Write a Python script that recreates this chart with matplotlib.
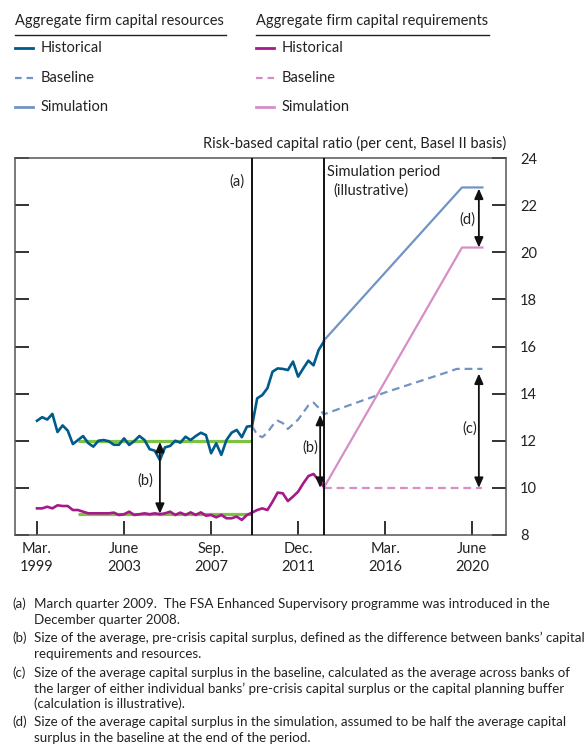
import matplotlib
matplotlib.use("Agg")
import matplotlib.pyplot as plt
from matplotlib.lines import Line2D

# ---------------- data ----------------
tick_pos = [0, 17, 34, 51, 68, 85]
tick_labels = ["Mar.\n1999", "June\n2003", "Sep.\n2007", "Dec.\n2011", "Mar.\n2016", "June\n2020"]
y_ticks = [8, 10, 12, 14, 16, 18, 20, 22, 24]

hist_q = list(range(0, 57))
res_hist = [12.85, 13.0, 12.9, 13.14, 12.37, 12.65, 12.43, 11.86, 12.03, 12.2,
            11.9, 11.75, 12.0, 12.03, 11.98, 11.83, 11.83, 12.1, 11.82, 11.99,
            12.2, 12.03, 11.64, 11.58, 11.18, 11.72, 11.78, 12.0, 11.92, 12.17,
            12.03, 12.2, 12.34, 12.24, 11.47, 11.89, 11.4, 12.03, 12.34, 12.46,
            12.15, 12.6, 12.63, 13.8, 13.94, 14.23, 14.93, 15.07, 15.05, 15.0,
            15.36, 14.72, 15.07, 15.4, 15.2, 15.85, 16.2]
req_hist = [9.13, 9.13, 9.2, 9.13, 9.26, 9.23, 9.23, 9.06, 9.06, 8.99,
            8.92, 8.92, 8.92, 8.92, 8.92, 8.95, 8.85, 8.88, 8.99, 8.85,
            8.88, 8.92, 8.88, 8.92, 8.88, 8.92, 8.99, 8.85, 8.95, 8.85,
            8.96, 8.85, 8.96, 8.82, 8.85, 8.75, 8.85, 8.71, 8.71, 8.78,
            8.64, 8.85, 8.95, 9.06, 9.13, 9.06, 9.41, 9.8, 9.77, 9.44,
            9.63, 9.84, 10.19, 10.5, 10.59, 10.33, 10.05]

res_base_q = [42, 43, 44, 45, 46, 47, 48, 49, 50, 51, 52, 53, 54, 55, 56, 68, 80, 82, 87]
res_base = [12.63, 12.25, 12.15, 12.35, 12.65, 12.85, 12.75, 12.5, 12.7, 12.9,
            13.2, 13.5, 13.62, 13.4, 13.12, 14.05, 14.9, 15.05, 15.05]
req_base_q = [56, 87]
req_base = [10.0, 10.0]

res_sim_q = [56, 83, 87]
res_sim = [16.25, 22.75, 22.75]
req_sim_q = [56, 83, 87]
req_sim = [10.0, 20.2, 20.2]

avg_q = [8, 42]
res_avg = [12.0, 12.0]
req_avg = [8.88, 8.88]

crisis_q = 42
sim_start_q = 56

arrow_b1 = (24, 11.95, 8.9)
arrow_b2 = (55.3, 13.1, 10.0)
arrow_c = (86.3, 14.85, 10.0)
arrow_d = (86.3, 22.7, 20.2)

# ---------------- style ----------------
C_RES = "#005a8c"
C_RES_L = "#7194c3"
C_REQ = "#a5198b"
C_REQ_L = "#d68fc6"
C_GREEN = "#7dc242"
C_SPINE = "#555555"
C_TXT = "#222222"

plt.rcParams['font.family'] = ['Lato', 'DejaVu Sans']
plt.rcParams['text.color'] = C_TXT

W, H = 586, 747
fig = plt.figure(figsize=(W / 100, H / 100), dpi=100)


def fx(px):
    return px / W


def fy(py):
    return 1 - py / H


ax = fig.add_axes([fx(15), fy(535), fx(506) - fx(15), fy(158) - fy(535)])
ax.set_xlim(-4.3, 91.6)
ax.set_ylim(8, 24)

# lines
ax.plot(avg_q, res_avg, color=C_GREEN, lw=2.3, solid_capstyle='butt', zorder=2)
ax.plot(avg_q, req_avg, color=C_GREEN, lw=2.3, solid_capstyle='butt', zorder=2)
ax.plot(hist_q, res_hist, color=C_RES, lw=1.9, zorder=3)
ax.plot(hist_q, req_hist, color=C_REQ, lw=1.9, zorder=3)
ax.plot(res_base_q, res_base, color=C_RES_L, lw=1.6, dashes=(3.5, 2.2), zorder=3)
ax.plot(req_base_q, req_base, color=C_REQ_L, lw=1.6, dashes=(3.5, 2.2), zorder=3)
ax.plot(res_sim_q, res_sim, color=C_RES_L, lw=1.6, zorder=3)
ax.plot(req_sim_q, req_sim, color=C_REQ_L, lw=1.6, zorder=3)

ax.axvline(crisis_q, color="#111111", lw=1.4, zorder=4)
ax.axvline(sim_start_q, color="#111111", lw=1.4, zorder=4)

# arrows
for (xq, y0, y1) in [arrow_b1, arrow_b2, arrow_c, arrow_d]:
    ax.annotate("", xy=(xq, y1), xytext=(xq, y0),
                arrowprops=dict(arrowstyle="<|-|>,head_length=0.5,head_width=0.22",
                                color="#111111", lw=1.3,
                                mutation_scale=12, shrinkA=0, shrinkB=0), zorder=5)

fs = 10.5
ax.text(24 - 1.2, 10.3, "(b)", ha='right', va='center', fontsize=fs)
ax.text(53.3, 11.7, "(b)", ha='center', va='center', fontsize=fs)
ax.text(84.6, 12.5, "(c)", ha='center', va='center', fontsize=fs)
ax.text(84.0, 21.4, "(d)", ha='center', va='center', fontsize=fs)
ax.text(39.0, 23.0, "(a)", ha='center', va='center', fontsize=fs)
ax.text(56.7, 23.42, "Simulation period", ha='left', va='center', fontsize=fs)
ax.text(57.9, 22.62, "(illustrative)", ha='left', va='center', fontsize=fs)

# axes styling
for s in ax.spines.values():
    s.set_color(C_SPINE)
    s.set_linewidth(1.1)
ax.set_yticks(y_ticks)
ax.set_yticklabels([str(v) for v in y_ticks])
ax.tick_params(axis='y', left=True, right=True, labelleft=False, labelright=True,
               direction='in', length=10, width=1.3, color="#222222",
               labelsize=fs, pad=10, labelcolor=C_TXT)
ax.set_xticks(tick_pos)
ax.set_xticklabels(tick_labels, linespacing=1.35)
ax.tick_params(axis='x', bottom=True, top=False, direction='in', length=10,
               width=1.3, color="#222222", labelsize=fs, pad=5, labelcolor=C_TXT)

fig.text(fx(506), fy(143), "Risk-based capital ratio (per cent, Basel II basis)",
         ha='right', va='center', fontsize=fs)

# legend
lg = [
    (15, "Aggregate firm capital resources", 226,
     [(C_RES, '-', "Historical"), (C_RES_L, '--', "Baseline"), (C_RES_L, '-', "Simulation")]),
    (256, "Aggregate firm capital requirements", 489,
     [(C_REQ, '-', "Historical"), (C_REQ_L, '--', "Baseline"), (C_REQ_L, '-', "Simulation")]),
]
item_y = [48, 78, 107]
for x0, head, x1, items in lg:
    fig.text(fx(x0), fy(21), head, ha='left', va='center', fontsize=fs)
    fig.add_artist(Line2D([fx(x0), fx(x1)], [fy(35), fy(35)], color="#222222", lw=1.0))
    for (c, ls, lab), yy in zip(items, item_y):
        kw = dict(color=c, lw=2.0 if ls == '-' else 1.6)
        if ls == '--':
            kw['dashes'] = (3.0, 2.2)
        fig.add_artist(Line2D([fx(x0), fx(x0 + 18)], [fy(yy), fy(yy)], **kw))
        fig.text(fx(x0 + 26), fy(yy), lab, ha='left', va='center', fontsize=fs)

# footnotes
fn = [
    ("(a)", ["March quarter 2009.  The FSA Enhanced Supervisory programme was introduced in the",
             "December quarter 2008."], 604),
    ("(b)", ["Size of the average, pre-crisis capital surplus, defined as the difference between banks\u2019 capital",
             "requirements and resources."], 638),
    ("(c)", ["Size of the average capital surplus in the baseline, calculated as the average across banks of",
             "the larger of either individual banks\u2019 pre-crisis capital surplus or the capital planning buffer",
             "(calculation is illustrative)."], 673),
    ("(d)", ["Size of the average capital surplus in the simulation, assumed to be half the average capital",
             "surplus in the baseline at the end of the period."], 722),
]
ffs = 9.6
for lab, lines, y0 in fn:
    fig.text(fx(12), fy(y0), lab, ha='left', va='center', fontsize=ffs)
    for i, ln in enumerate(lines):
        fig.text(fx(34), fy(y0 + i * 15.5), ln, ha='left', va='center', fontsize=ffs)

fig.savefig("out.png", dpi=100)
